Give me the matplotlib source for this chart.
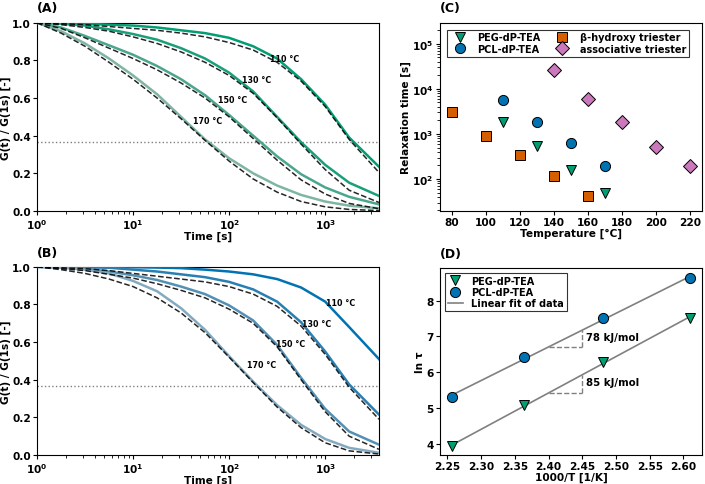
import numpy as np
import matplotlib
matplotlib.use("Agg")
import matplotlib.pyplot as plt

plt.rcParams['font.family'] = ['DejaVu Sans']
plt.rcParams['font.weight'] = 'bold'
plt.rcParams['axes.labelweight'] = 'bold'
plt.rcParams['mathtext.default'] = 'bf'
plt.rcParams['xtick.major.size'] = 3
plt.rcParams['ytick.major.size'] = 3

# time axis for the relaxation curves [s]
t = [1, 1.78, 3.16, 5.62, 10, 17.8, 31.6, 56.2, 100, 178, 316, 562, 1000, 1778, 3630]
temps = ["110 °C", "130 °C", "150 °C", "170 °C"]

# (A) PEG-dP-TEA: measured (solid) and fit (dashed)
peg_110 = [1.0, 1.0, 0.995, 0.99, 0.985, 0.975, 0.96, 0.945, 0.92, 0.875, 0.81, 0.70, 0.565, 0.39, 0.235]
peg_130 = [1.0, 0.995, 0.985, 0.965, 0.94, 0.91, 0.865, 0.81, 0.735, 0.635, 0.50, 0.365, 0.245, 0.15, 0.08]
peg_150 = [1.0, 0.975, 0.93, 0.88, 0.83, 0.77, 0.70, 0.615, 0.51, 0.40, 0.29, 0.195, 0.125, 0.075, 0.035]
peg_170 = [1.0, 0.955, 0.89, 0.81, 0.72, 0.62, 0.50, 0.38, 0.28, 0.20, 0.135, 0.085, 0.05, 0.028, 0.014]
pegfit_110 = [1.0, 0.995, 0.99, 0.98, 0.97, 0.96, 0.945, 0.925, 0.895, 0.855, 0.79, 0.69, 0.555, 0.38, 0.205]
pegfit_130 = [1.0, 0.99, 0.975, 0.955, 0.925, 0.89, 0.845, 0.79, 0.72, 0.625, 0.495, 0.355, 0.22, 0.11, 0.045]
pegfit_150 = [1.0, 0.97, 0.92, 0.865, 0.81, 0.75, 0.68, 0.60, 0.50, 0.385, 0.27, 0.165, 0.09, 0.04, 0.012]
pegfit_170 = [1.0, 0.945, 0.875, 0.79, 0.70, 0.60, 0.49, 0.375, 0.265, 0.17, 0.10, 0.05, 0.022, 0.008, 0.002]

# (B) PCL-dP-TEA
pcl_110 = [1.0, 1.0, 1.0, 0.999, 0.998, 0.996, 0.993, 0.985, 0.975, 0.96, 0.935, 0.89, 0.815, 0.68, 0.51]
pcl_130 = [1.0, 1.0, 0.998, 0.995, 0.985, 0.975, 0.96, 0.945, 0.92, 0.88, 0.815, 0.705, 0.55, 0.375, 0.215]
pcl_150 = [1.0, 0.998, 0.99, 0.975, 0.955, 0.93, 0.895, 0.855, 0.795, 0.715, 0.585, 0.41, 0.245, 0.125, 0.055]
pcl_170 = [1.0, 0.995, 0.985, 0.965, 0.925, 0.87, 0.78, 0.665, 0.525, 0.39, 0.265, 0.16, 0.085, 0.038, 0.012]
pclfit_130 = [1.0, 0.995, 0.99, 0.98, 0.965, 0.95, 0.935, 0.92, 0.895, 0.855, 0.79, 0.685, 0.535, 0.36, 0.19]
pclfit_150 = [1.0, 0.99, 0.98, 0.96, 0.94, 0.91, 0.875, 0.835, 0.775, 0.70, 0.575, 0.40, 0.23, 0.10, 0.03]
pclfit_170 = [1.0, 0.985, 0.965, 0.935, 0.895, 0.835, 0.755, 0.65, 0.52, 0.385, 0.255, 0.145, 0.065, 0.022, 0.005]

# (C) relaxation times
T_dp = [110, 130, 150, 170]
tau_peg = [1845, 528, 161, 50]
tau_pcl = [5600, 1808, 620, 198]
T_hyd = [80, 100, 120, 140, 160]
tau_hyd = [3030, 918, 336, 119, 41]
T_ass = [140, 160, 180, 200, 220]
tau_ass = [26400, 6000, 1815, 523, 190]

# (D) Arrhenius
invT = [2.2566, 2.3632, 2.4805, 2.6102]
lntau_peg = [3.92, 5.08, 6.27, 7.52]
lntau_pcl = [5.29, 6.43, 7.50, 8.63]

green = ['#029e73', '#1a9f7b', '#4aa68c', '#80b5a6']
blue = ['#0173b2', '#2a7fb2', '#5390b4', '#84aabf']
c_green, c_blue, c_orange, c_pink = '#029e73', '#0173b2', '#d55e00', '#cc78bc'

fig = plt.figure(figsize=(7.05, 4.85), dpi=100)
axA = fig.add_axes([0.0525, 0.563, 0.485, 0.388])
axB = fig.add_axes([0.0525, 0.0598, 0.485, 0.388])
axC = fig.add_axes([0.624, 0.563, 0.372, 0.388])
axD = fig.add_axes([0.624, 0.0598, 0.372, 0.386])

lab_y = [0.81, 0.70, 0.59, 0.48]
labA_x = [382, 195, 110, 60]
labB_x = [1440, 810, 433, 220]

FS = 7.6

def relax_panel(ax, solids, fits, cols, lab_x, tag):
    for s, c in zip(solids, cols):
        ax.plot(t, s, '-', color=c, lw=1.8, zorder=3)
    for f in fits:
        if f is not None:
            ax.plot(t, f, '--', color='k', lw=1.1, zorder=4, alpha=0.85)
    ax.axhline(1/np.e, color='gray', ls=':', lw=1)
    for x, y, s in zip(lab_x, lab_y, temps):
        ax.text(x, y, s, fontsize=5.8, ha='center', va='center', fontweight='bold')
    ax.set_xscale('log')
    ax.set_xlim(1, 3630)
    ax.set_ylim(0, 1)
    ax.set_yticks([0, 0.2, 0.4, 0.6, 0.8, 1.0])
    ax.set_xlabel('Time [s]', fontsize=FS, labelpad=0)
    ax.set_ylabel('G(t) / G(1s) [-]', fontsize=FS, labelpad=1)
    ax.tick_params(labelsize=FS, pad=1.5)
    ax.text(0.0, 1.06, tag, transform=ax.transAxes, fontsize=9, fontweight='bold')

relax_panel(axA, [peg_110, peg_130, peg_150, peg_170],
            [pegfit_110, pegfit_130, pegfit_150, pegfit_170], green, labA_x, '(A)')
relax_panel(axB, [pcl_110, pcl_130, pcl_150, pcl_170],
            [None, pclfit_130, pclfit_150, pclfit_170], blue, labB_x, '(B)')

# (C)
ms = 7.3
axC.plot(T_dp, tau_peg, 'v', color=c_green, mec='k', mew=0.7, ms=ms, ls='none', label='PEG-dP-TEA')
axC.plot(T_dp, tau_pcl, 'o', color=c_blue, mec='k', mew=0.7, ms=ms, ls='none', label='PCL-dP-TEA')
axC.plot(T_hyd, tau_hyd, 's', color=c_orange, mec='k', mew=0.7, ms=ms, ls='none', label='β-hydroxy triester')
axC.plot(T_ass, tau_ass, 'D', color=c_pink, mec='k', mew=0.7, ms=ms, ls='none', label='associative triester')
axC.set_yscale('log')
axC.set_ylim(19.5, 2.95e5)
axC.set_xticks(range(80, 221, 20))
axC.set_xlabel('Temperature [°C]', fontsize=FS, labelpad=0)
axC.set_ylabel('Relaxation time [s]', fontsize=FS, labelpad=1)
axC.tick_params(labelsize=FS, pad=1.5)
legC = axC.legend(ncol=2, loc='upper left', fontsize=7, frameon=True, fancybox=False,
                  edgecolor='k', handletextpad=0.8, columnspacing=1.2,
                  borderpad=0.3, labelspacing=0.15, bbox_to_anchor=(0.01, 0.99))
legC.get_frame().set_linewidth(0.8)
axC.text(0.0, 1.06, '(C)', transform=axC.transAxes, fontsize=9, fontweight='bold')

# (D)
for x_, y_, mk, c, lab in [(invT, lntau_peg, 'v', c_green, 'PEG-dP-TEA'),
                           (invT, lntau_pcl, 'o', c_blue, 'PCL-dP-TEA')]:
    axD.plot(x_, y_, mk, color=c, mec='k', mew=0.7, ms=ms, ls='none', label=lab, zorder=3)
fits = []
for y_ in (lntau_peg, lntau_pcl):
    k, b = np.polyfit(invT, y_, 1)
    fits.append((k, b))
    xx = np.array([invT[0], invT[-1]])
    axD.plot(xx, k * xx + b, color='gray', lw=1.2, zorder=2,
             label='Linear fit of data' if y_ is lntau_pcl else None)
for (k, b), txt in zip(fits, ['85 kJ/mol', '78 kJ/mol']):
    y0, y1 = k * 2.40 + b, k * 2.45 + b
    axD.plot([2.40, 2.45], [y0, y0], '--', color='gray', lw=1)
    axD.plot([2.45, 2.45], [y0, y1], '--', color='gray', lw=1)
    axD.text(2.455, (y0 + y1) / 2 + 0.05, txt, fontsize=7.3, fontweight='bold', va='center')
axD.set_xticks([2.25, 2.30, 2.35, 2.40, 2.45, 2.50, 2.55, 2.60])
axD.set_xticklabels(['%.2f' % v for v in [2.25, 2.30, 2.35, 2.40, 2.45, 2.50, 2.55, 2.60]])
axD.set_yticks([4, 5, 6, 7, 8])
axD.set_xlabel('1000/T [1/K]', fontsize=FS, labelpad=0)
axD.set_ylabel('ln τ', fontsize=FS, labelpad=1)
axD.tick_params(labelsize=FS, pad=1.5)
h, l = axD.get_legend_handles_labels()
legD = axD.legend(h, l, loc='upper left', fontsize=7, frameon=True, fancybox=False,
                  edgecolor='k', borderpad=0.3, labelspacing=0.15, handlelength=1.6)
legD.get_frame().set_linewidth(0.8)
axD.text(0.0, 1.06, '(D)', transform=axD.transAxes, fontsize=9, fontweight='bold')

fig.savefig('out.png', dpi=100)
